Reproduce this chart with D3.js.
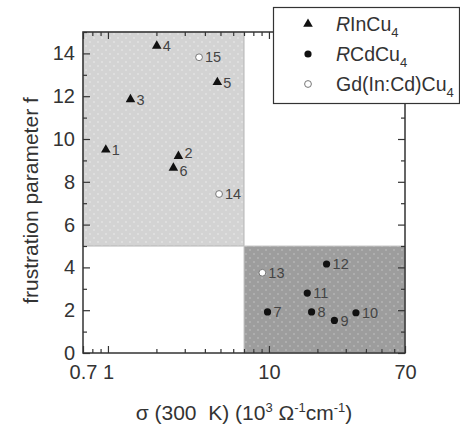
<!DOCTYPE html>
<html>
<head>
<meta charset="utf-8">
<script src="https://cdn.jsdelivr.net/npm/d3@7"></script>
<style>
  html, body { margin: 0; padding: 0; background: #fff; }
  svg { display: block; font-family: "Liberation Sans", Arial, Helvetica, sans-serif; }
  .pre { white-space: pre; }
</style>
</head>
<body>
<svg id="chart" width="460" height="430"></svg>
<script>
// RInCu4 compounds (filled triangles)
const inCuIds = [1, 2, 3, 4, 5, 6];
const inCuSigma = [0.97, 2.74, 1.38, 2.01, 4.78, 2.55];
const inCuF = [9.5, 9.2, 11.85, 14.35, 12.65, 8.65];

// RCdCu4 compounds (filled circles)
const cdCuIds = [7, 8, 9, 10, 11, 12];
const cdCuSigma = [9.8, 18.4, 25.5, 34.7, 17.3, 22.8];
const cdCuF = [1.92, 1.92, 1.52, 1.88, 2.8, 4.16];

// Gd(In:Cd)Cu4 mixed compounds (open circles)
const mixIds = [13, 14, 15];
const mixSigma = [9.1, 4.9, 3.68];
const mixF = [3.75, 7.43, 13.82];

// axis ranges and ticks
const xDomain = [0.7, 70];
const yDomain = [0, 15];
const xMajorTicks = [0.7, 1, 10, 70];
const xMajorLabels = ["0.7", "1", "10", "70"];
const xMinorTicks = [0.8, 0.9, 2, 3, 4, 5, 6, 7, 8, 9, 20, 30, 40, 50, 60];
const yMajorTicks = [0, 2, 4, 6, 8, 10, 12, 14];
const yMinorTicks = [1, 3, 5, 7, 9, 11, 13, 15];

// region boundaries: low conductivity / high frustration vs. high conductivity / low frustration
const sigmaSplit = 7;
const fSplit = 5;

const svg = d3.select("#chart");
const m = { left: 83, right: 405, top: 32, bottom: 353 };

const x = d3.scaleLog().domain(xDomain).range([m.left, m.right]);
const y = d3.scaleLinear().domain(yDomain).range([m.bottom, m.top]);

// dotted fill patterns for the two shaded regions
const defs = svg.append("defs");
function dotPattern(id, bg, dot) {
  const p = defs.append("pattern").attr("id", id)
    .attr("patternUnits", "userSpaceOnUse").attr("width", 8).attr("height", 8);
  p.append("rect").attr("width", 8).attr("height", 8).attr("fill", bg);
  p.append("circle").attr("cx", 2).attr("cy", 2).attr("r", 0.8).attr("fill", dot);
  p.append("circle").attr("cx", 6).attr("cy", 6).attr("r", 0.8).attr("fill", dot);
}
dotPattern("dotsLight", "#d3d3d3", "#ececec");
dotPattern("dotsDark", "#9d9d9d", "#c4c4c4");

svg.append("rect")
  .attr("x", x(xDomain[0])).attr("y", y(yDomain[1]))
  .attr("width", x(sigmaSplit) - x(xDomain[0]))
  .attr("height", y(fSplit) - y(yDomain[1]))
  .attr("fill", "url(#dotsLight)")
  .attr("stroke", "#b5b5b5").attr("stroke-width", 1);

svg.append("rect")
  .attr("x", x(sigmaSplit)).attr("y", y(fSplit))
  .attr("width", x(xDomain[1]) - x(sigmaSplit))
  .attr("height", y(yDomain[0]) - y(fSplit))
  .attr("fill", "url(#dotsDark)")
  .attr("stroke", "#c8c8c8").attr("stroke-width", 1);

// axes with inward ticks on all four sides
const axisColor = "#333";
function styleAxis(g) {
  g.select(".domain").remove();
  g.selectAll(".tick line").attr("stroke", axisColor).attr("stroke-width", 1.2);
  g.selectAll("text").attr("fill", "#333").attr("font-size", 20);
}

const bottomMajor = svg.append("g").attr("transform", `translate(0,${m.bottom})`)
  .call(d3.axisBottom(x).tickValues(xMajorTicks)
    .tickFormat((d, i) => xMajorLabels[i]).tickSize(-7).tickPadding(12));
styleAxis(bottomMajor);
const bottomMinor = svg.append("g").attr("transform", `translate(0,${m.bottom})`)
  .call(d3.axisBottom(x).tickValues(xMinorTicks).tickFormat("").tickSize(-4));
styleAxis(bottomMinor);

const topMajor = svg.append("g").attr("transform", `translate(0,${m.top})`)
  .call(d3.axisTop(x).tickValues(xMajorTicks).tickFormat("").tickSize(-7));
styleAxis(topMajor);
const topMinor = svg.append("g").attr("transform", `translate(0,${m.top})`)
  .call(d3.axisTop(x).tickValues(xMinorTicks).tickFormat("").tickSize(-4));
styleAxis(topMinor);

const leftMajor = svg.append("g").attr("transform", `translate(${m.left},0)`)
  .call(d3.axisLeft(y).tickValues(yMajorTicks).tickSize(-7).tickPadding(8));
styleAxis(leftMajor);
const leftMinor = svg.append("g").attr("transform", `translate(${m.left},0)`)
  .call(d3.axisLeft(y).tickValues(yMinorTicks).tickFormat("").tickSize(-4));
styleAxis(leftMinor);

const rightMajor = svg.append("g").attr("transform", `translate(${m.right},0)`)
  .call(d3.axisRight(y).tickValues(yMajorTicks).tickFormat("").tickSize(-7));
styleAxis(rightMajor);
const rightMinor = svg.append("g").attr("transform", `translate(${m.right},0)`)
  .call(d3.axisRight(y).tickValues(yMinorTicks).tickFormat("").tickSize(-4));
styleAxis(rightMinor);

// plot frame
svg.append("rect")
  .attr("x", m.left).attr("y", m.top)
  .attr("width", m.right - m.left).attr("height", m.bottom - m.top)
  .attr("fill", "none").attr("stroke", axisColor).attr("stroke-width", 1.5);

// axis titles
svg.append("text")
  .attr("transform", `translate(31,${(m.top + m.bottom) / 2 + 8}) rotate(-90)`)
  .attr("text-anchor", "middle").attr("dy", "0.35em")
  .attr("font-size", 21).attr("fill", "#333")
  .text("frustration parameter f");

const xt = svg.append("text")
  .attr("class", "pre")
  .attr("x", (m.left + m.right) / 2).attr("y", 420)
  .attr("text-anchor", "middle").attr("font-size", 21).attr("fill", "#333");
xt.append("tspan").text("σ (300  K) (10");
xt.append("tspan").attr("font-size", 13).attr("dy", -8).text("3");
xt.append("tspan").attr("dy", 8).text(" Ω");
xt.append("tspan").attr("font-size", 13).attr("dy", -8).text("-1");
xt.append("tspan").attr("dy", 8).text("cm");
xt.append("tspan").attr("font-size", 13).attr("dy", -8).text("-1");
xt.append("tspan").attr("dy", 8).text(")");

// data markers
const triangle = d3.symbol().type(d3.symbolTriangle).size(40);
const plot = svg.append("g");

function zip(ids, xs, ys) {
  return ids.map((id, i) => ({ id, s: xs[i], f: ys[i] }));
}
const inCu = zip(inCuIds, inCuSigma, inCuF);
const cdCu = zip(cdCuIds, cdCuSigma, cdCuF);
const mix = zip(mixIds, mixSigma, mixF);

plot.selectAll("path.tri").data(inCu).join("path")
  .attr("class", "tri")
  .attr("d", triangle)
  .attr("transform", d => `translate(${x(d.s)},${y(d.f)})`)
  .attr("fill", "#111");

plot.selectAll("circle.cd").data(cdCu).join("circle")
  .attr("class", "cd")
  .attr("cx", d => x(d.s)).attr("cy", d => y(d.f)).attr("r", 3.6)
  .attr("fill", "#111");

plot.selectAll("circle.mix").data(mix).join("circle")
  .attr("class", "mix")
  .attr("cx", d => x(d.s)).attr("cy", d => y(d.f)).attr("r", 3.4)
  .attr("fill", "#fff").attr("stroke", "#777").attr("stroke-width", 1);

// the numbers of the two close triangles are pushed slightly apart
const labelShift = { 2: -3, 6: 3 };
plot.selectAll("text.num").data(inCu.concat(cdCu, mix)).join("text")
  .attr("class", "num")
  .attr("x", d => x(d.s) + 6).attr("y", d => y(d.f) + (labelShift[d.id] || 0))
  .attr("dy", "0.36em")
  .attr("font-size", 14.5).attr("fill", "#444")
  .text(d => d.id);

// legend box
const lg = svg.append("g");
lg.append("rect")
  .attr("x", 273.5).attr("y", 7.5).attr("width", 186).attr("height", 96)
  .attr("fill", "#fff").attr("stroke", "#333").attr("stroke-width", 1.2);

const legendRows = [
  { kind: "tri", italic: "R", rest: "InCu" },
  { kind: "dot", italic: "R", rest: "CdCu" },
  { kind: "open", italic: "", rest: "Gd(In:Cd)Cu" }
];
const rowY = [24, 54, 84];
legendRows.forEach((r, i) => {
  const cy = rowY[i];
  if (r.kind === "tri") {
    lg.append("path").attr("d", triangle).attr("transform", `translate(308,${cy})`).attr("fill", "#111");
  } else if (r.kind === "dot") {
    lg.append("circle").attr("cx", 308).attr("cy", cy).attr("r", 3.6).attr("fill", "#111");
  } else {
    lg.append("circle").attr("cx", 308).attr("cy", cy).attr("r", 3.4)
      .attr("fill", "#fff").attr("stroke", "#777");
  }
  const t = lg.append("text").attr("x", 336).attr("y", cy + 7)
    .attr("font-size", 19.5).attr("fill", "#333");
  if (r.italic) t.append("tspan").attr("font-style", "italic").text(r.italic);
  t.append("tspan").text(r.rest);
  t.append("tspan").attr("font-size", 13).attr("dy", 6).text("4");
});
</script>
</body>
</html>
